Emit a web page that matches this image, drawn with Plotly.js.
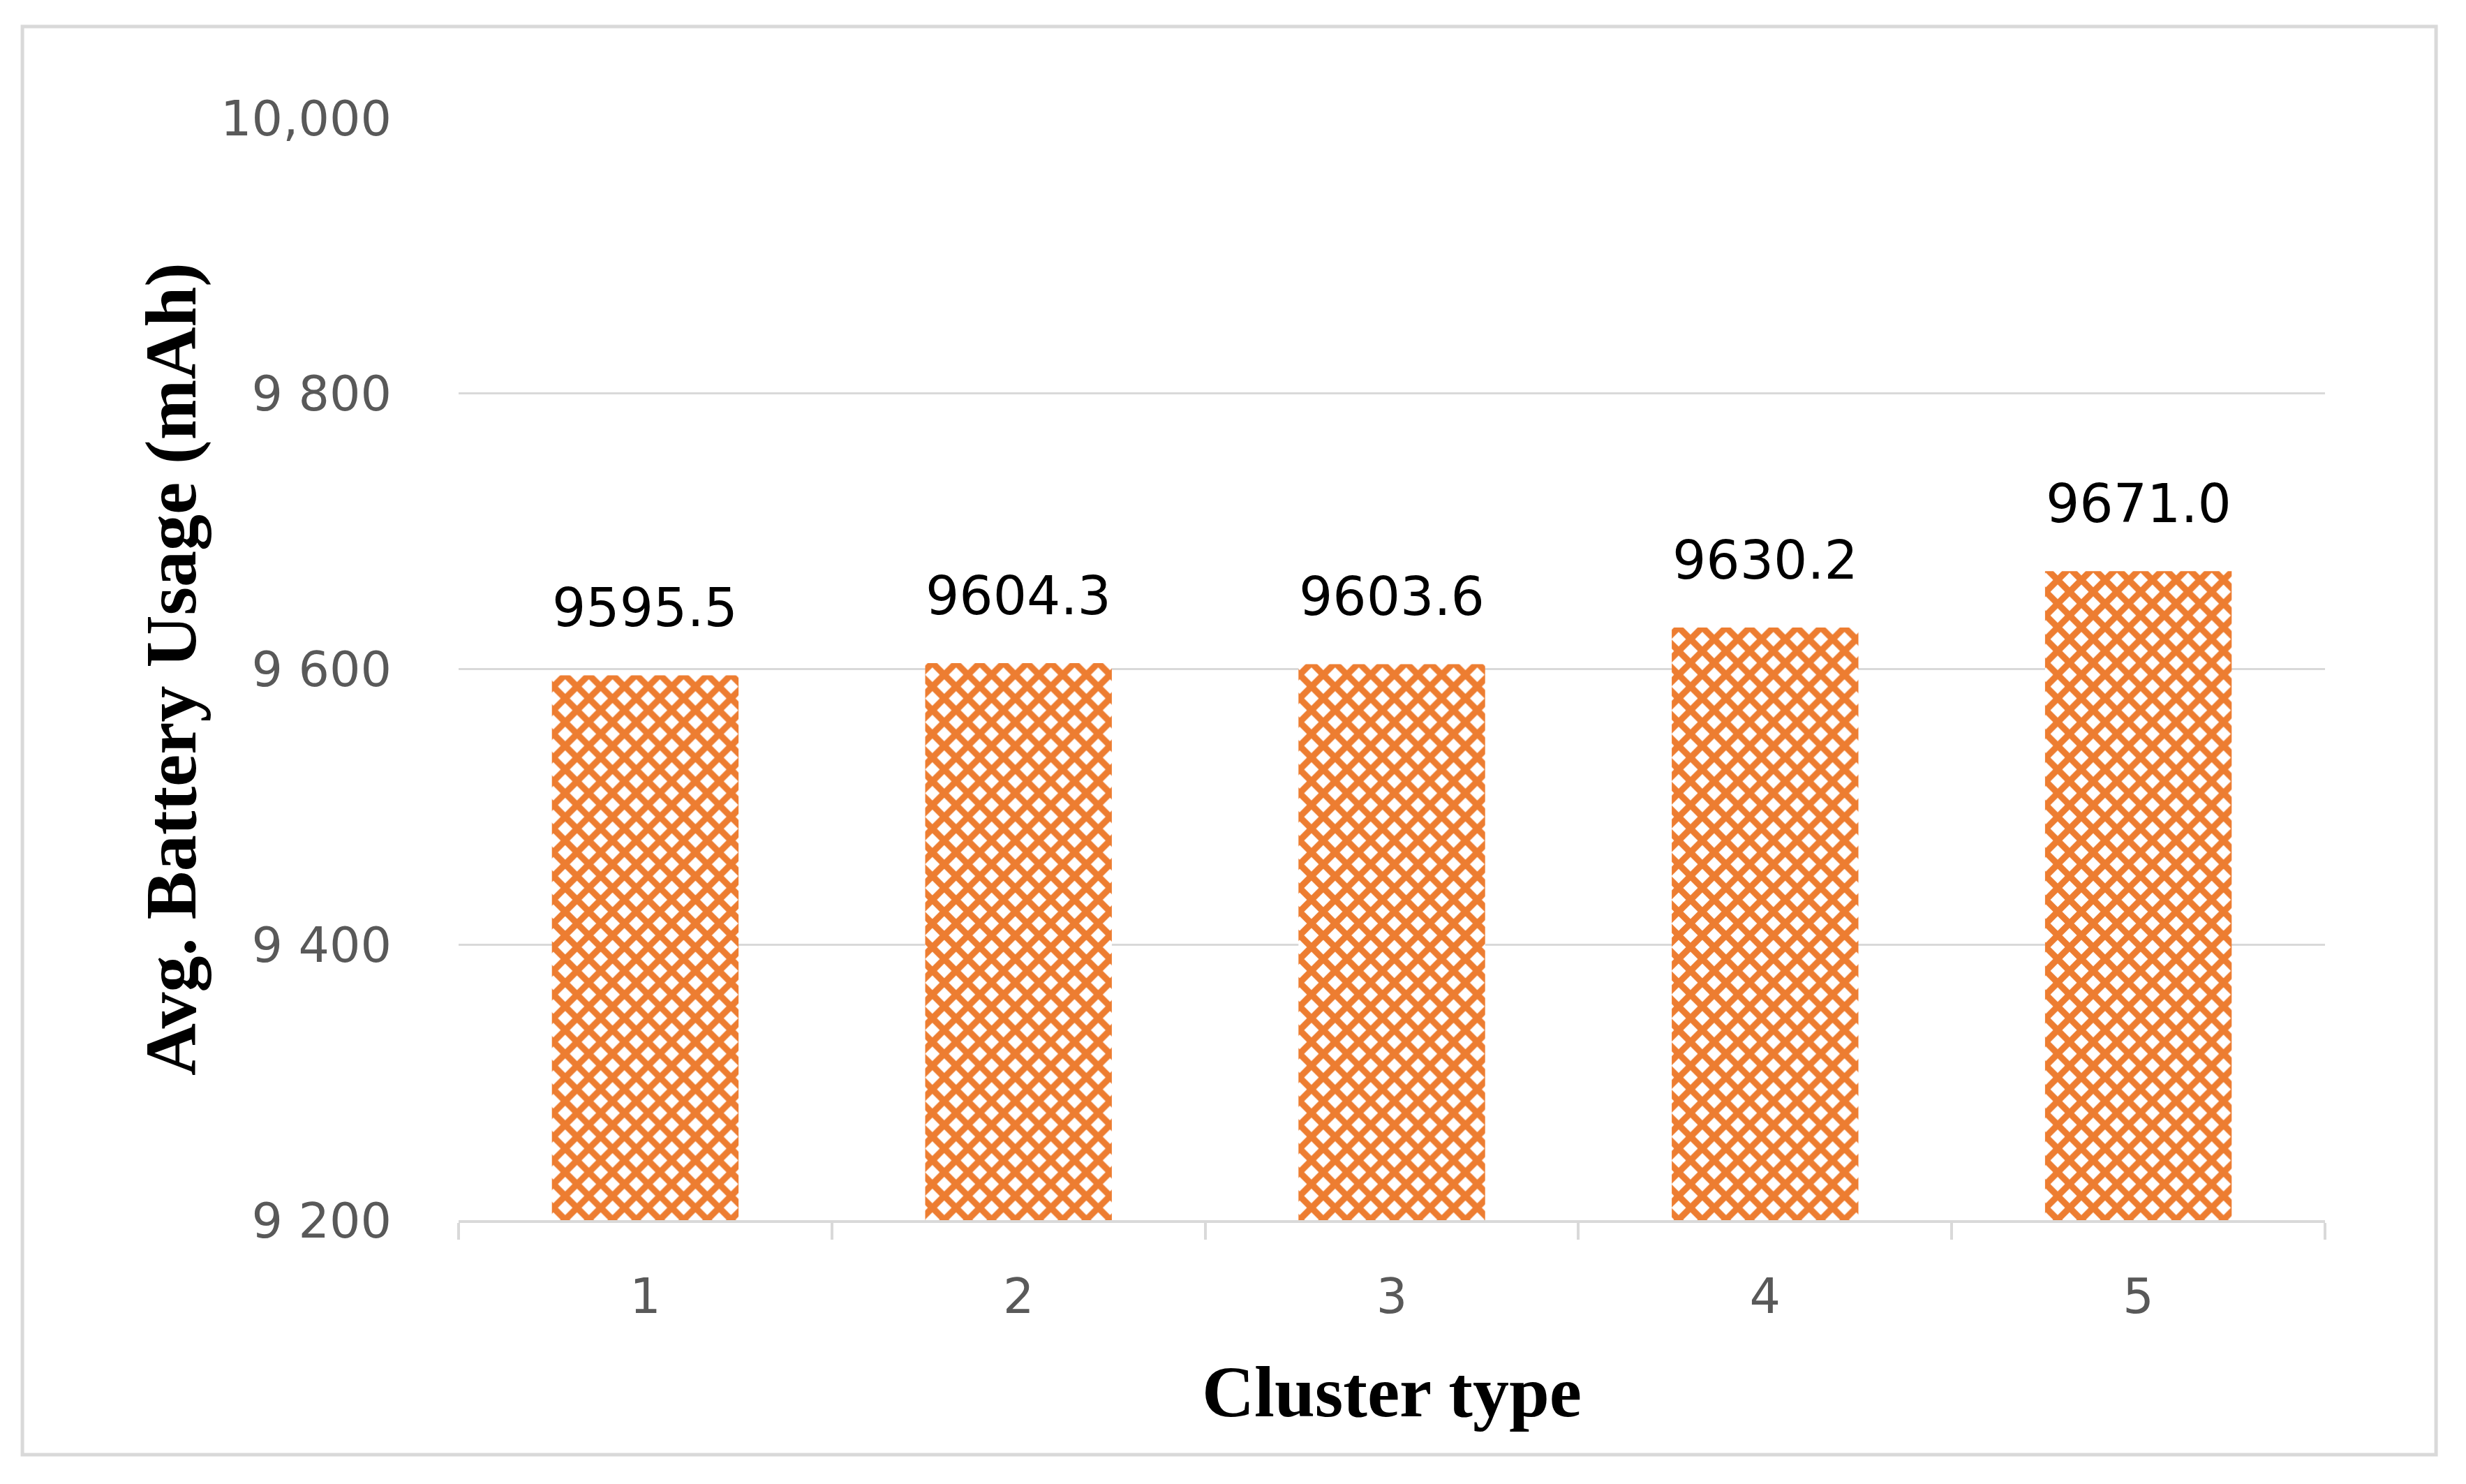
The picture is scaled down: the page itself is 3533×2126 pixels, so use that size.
<!DOCTYPE html>
<html>
<head>
<meta charset="utf-8">
<script src="https://cdn.plot.ly/plotly-3.0.1.min.js"></script>
<style>html,body{margin:0;padding:0;background:#fff;}#chart{width:3533px;height:2126px;}</style>
</head>
<body>
<div id="chart"></div>
<script>
const categories = ["1", "2", "3", "4", "5"];
const batteryUsage = [9595.5, 9604.3, 9603.6, 9630.2, 9671.0];
const valueLabels = ["9595.5", "9604.3", "9603.6", "9630.2", "9671.0"];
const yTickVals = [9200, 9400, 9600, 9800, 10000];
const yTickText = ["9 200", "9 400", "9 600", "9 800", "10,000"];
const xTitle = "Cluster type";
const yTitle = "Avg. Battery Usage (mAh)";

const orange = "#ED7D31";
const grid = "#d9d9d9";

const trace = {
  type: "bar",
  x: categories,
  y: batteryUsage,
  marker: {
    color: orange,
    line: {width: 0},
    pattern: {shape: "x", fgcolor: orange, bgcolor: "#ffffff", size: 24, solidity: 0.62}
  },
  hoverinfo: "x+y"
};

// category axis: annotation x given as the category index
const annotations = categories.map((c, i) => ({
  x: i, y: batteryUsage[i], xref: "x", yref: "y",
  text: valueLabels[i], showarrow: false, yanchor: "bottom", yshift: 50,
  font: {family: "DejaVu Sans", size: 76, color: "#000000"}
}));

const layout = {
  width: 3533, height: 2126,
  paper_bgcolor: "#ffffff", plot_bgcolor: "#ffffff",
  margin: {l: 657, r: 202, t: 169, b: 378, autoexpand: false},
  bargap: 0.5,
  showlegend: false,
  xaxis: {
    type: "category",
    categoryarray: categories,
    showline: true, linecolor: grid, linewidth: 4,
    ticks: "outside", tickson: "boundaries", ticklen: 24, tickwidth: 4, tickcolor: grid,
    showgrid: false, zeroline: false,
    tickfont: {family: "DejaVu Sans", size: 70, color: "#595959"},
    ticklabelstandoff: 45,
    title: {text: xTitle, standoff: 60, font: {family: "Liberation Serif", size: 104, color: "#000000", weight: "bold"}}
  },
  yaxis: {
    range: [9200, 10000],
    tickvals: yTickVals, ticktext: yTickText,
    showgrid: true, gridcolor: grid, gridwidth: 3,
    showline: false, zeroline: false, ticks: "",
    tickfont: {family: "DejaVu Sans", size: 70, color: "#595959"},
    ticklabelstandoff: 95,
    title: {text: yTitle, standoff: 0, font: {family: "Liberation Serif", size: 104, color: "#000000", weight: "bold"}}
  },
  annotations: annotations,
  shapes: [{
    type: "rect", xref: "paper", yref: "paper",
    x0: -0.2337, x1: 1.0595, y0: -0.2128, y1: 1.083,
    line: {color: grid, width: 5}, fillcolor: "rgba(0,0,0,0)", layer: "below"
  }]
};

Plotly.newPlot("chart", [trace], layout, {displayModeBar: false, staticPlot: true});
</script>
</body>
</html>
